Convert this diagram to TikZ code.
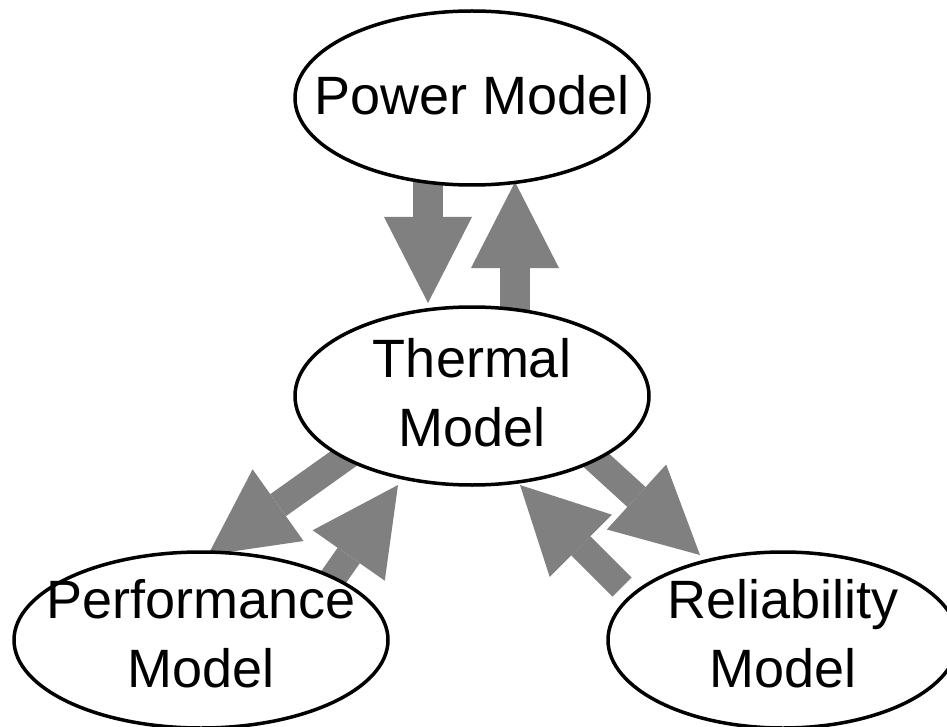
\documentclass[tikz,border=0pt]{standalone}
\usepackage{fontspec}
\setmainfont{Liberation Sans}
\usetikzlibrary{arrows.meta,shapes.geometric,calc,backgrounds}
\definecolor{arrowgray}{RGB}{128,128,128}
\begin{document}
\begin{tikzpicture}[x=1pt,y=-1pt,
  model/.style={ellipse, draw=black, line width=3.5pt, fill=white, inner sep=0pt},
  modeltext/.style={inner sep=0pt, align=center, font=\fontsize{54}{69}\selectfont},
  flow/.style={draw=arrowgray, line width=27pt, -{Triangle[width=88pt,length=86pt,line width=0pt]}},
]
\useasboundingbox (0,0) rectangle (947,727);
% ellipses
\node[model, minimum width=354pt, minimum height=174pt] (power) at (472,98) {};
\node[model, minimum width=354pt, minimum height=178pt] (thermal) at (472,396) {};
\node[model, minimum width=374pt, minimum height=176pt] (perf) at (201,640) {};
\node[model, minimum width=350pt, minimum height=176pt] (rel) at (783,640) {};
% texts
\node[modeltext] (powertxt) at ($(power.center)+(0,-2.7)$) {Power Model};
\node[modeltext] (thermaltxt) at ($(thermal.center)+(0,-3.5)$) {Thermal\\Model};
\node[modeltext] (perftxt) at ($(perf.center)+(0,-6.5)$) {Performance\\Model};
\node[modeltext] (reltxt) at ($(rel.center)+(0,-6.5)$) {Reliability\\Model};
% arrows
\begin{scope}[on background layer]
\draw[flow, line width=30pt] ($(power.center)+(-44,72)$) -- ($(thermal.center)+(-44,-93)$);
\draw[flow, line width=30pt] ($(thermal.center)+(43,-71)$) -- ($(power.center)+(43,84)$);
\draw[flow] ($(thermal.center)+(-110,49.5)$) -- ($(perf.center)+(7,-85)$);
\draw[flow] ($(perf.center)+(120.5,-45.6)$) -- ($(thermal.center)+(-74,89)$);
\draw[flow] ($(thermal.center)+(107,48.5)$) -- ($(rel.center)+(-83,-85)$);
\draw[flow] ($(rel.center)+(-161,-53)$) -- ($(thermal.center)+(48,89)$);
\end{scope}
\end{tikzpicture}
\end{document}
